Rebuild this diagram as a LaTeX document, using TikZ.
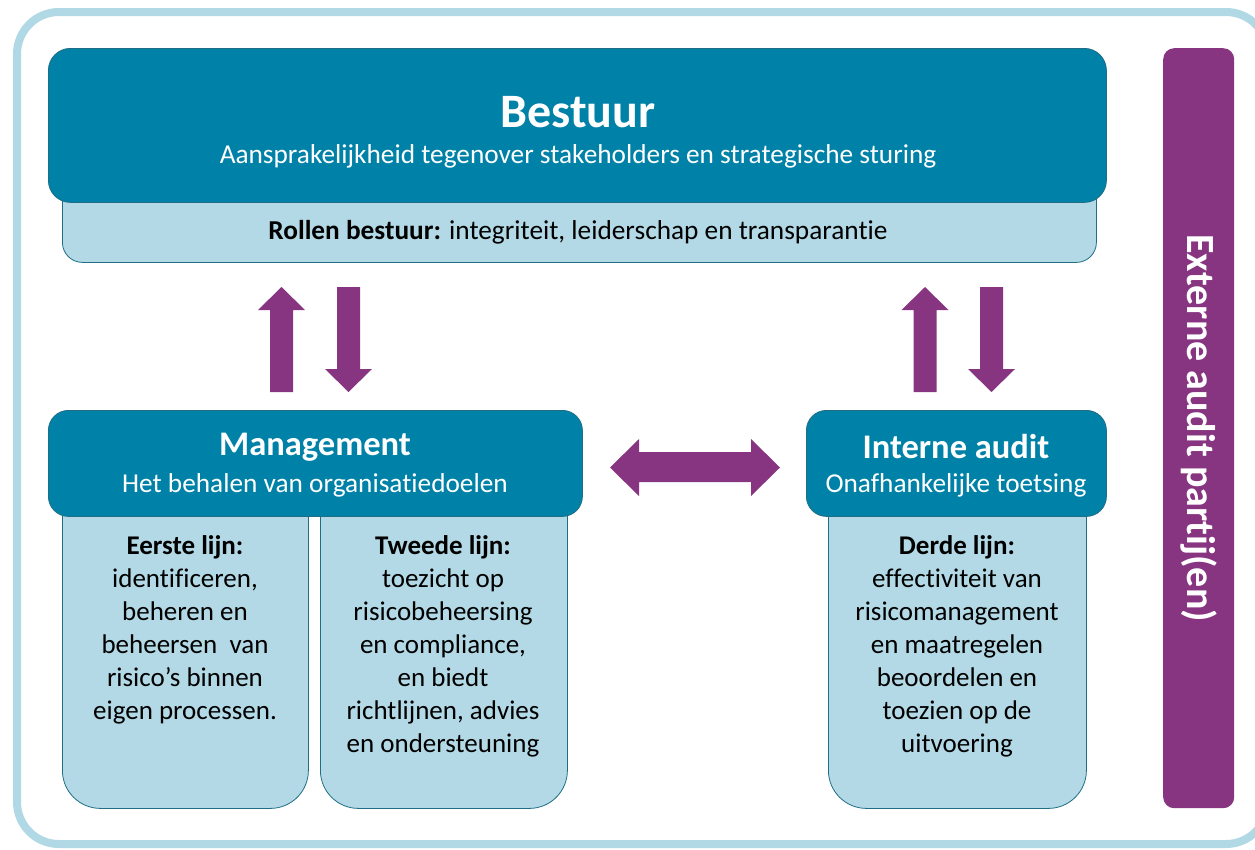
\documentclass[tikz,border=0pt]{standalone}
\usepackage{fontspec}
\setmainfont{Carlito}[Ligatures=NoCommon]
\usetikzlibrary{positioning}
\definecolor{headblue}{HTML}{0081A7}
\definecolor{headedge}{HTML}{1F6E85}
\definecolor{lightblue}{HTML}{B2D9E5}
\definecolor{framblue}{HTML}{B0D8E5}
\definecolor{auditpurple}{HTML}{873580}

\begin{document}
\begin{tikzpicture}[x=1pt,y=-1pt, line join=round,
	headbox/.style={draw=headedge, fill=headblue, line width=0.8pt, rounded corners=22pt, inner sep=0pt, anchor=north west},
	subbox/.style={draw=headedge, fill=lightblue, line width=0.8pt, rounded corners=38pt, inner sep=0pt, anchor=north west},
	arrowfill/.style={fill=auditpurple},
	titletext/.style={text=white, font=\bfseries\fontsize{34.5}{40}\selectfont},
	subtext/.style={text=white, font=\fontsize{27.3}{32}\selectfont},
	bodytext/.style={align=center, font=\fontsize{27}{33}\selectfont, anchor=north, inner sep=0pt}]
	\useasboundingbox (0,0) rectangle (1255,849);
	
	% ===== kader =====
	\draw[framblue, line width=8pt, rounded corners=42pt] (17,12) rectangle (1268,844);
	
	% ===== bestuur =====
	\node[subbox, rounded corners=20pt, minimum width=1034pt, minimum height=87pt] (rollen) at (62,175) {};
	\node[headbox, minimum width=1058pt, minimum height=154pt] (bestuur) at (48,48) {};
	\node[titletext, font=\bfseries\fontsize{48}{56}\selectfont] (bestuurT) at (578,112) {Bestuur};
	\node[subtext] (bestuurS) at (578,156) {Aansprakelijkheid tegenover stakeholders en strategische sturing};
	\node[font=\fontsize{27.3}{32}\selectfont] (rollenT) at (578,232) {\textbf{Rollen bestuur:} integriteit, leiderschap en transparantie};
	
	% ===== lijnen =====
	\node[subbox, minimum width=246pt, minimum height=338pt] (eerste) at (62,470) {};
	\node[subbox, minimum width=247pt, minimum height=338pt] (tweede) at (320,470) {};
	\node[subbox, minimum width=258pt, minimum height=338pt] (derde) at (828,470) {};
	
	\node[headbox, rounded corners=20pt, minimum width=534pt, minimum height=106pt] (mgmt) at (48,410) {};
	\node[headbox, rounded corners=20pt, minimum width=300pt, minimum height=106pt] (audit) at (806,410) {};
	
	\node[titletext] (mgmtT) at (315,447) {Management};
	\node[subtext] (mgmtS) at (315,485) {Het behalen van organisatiedoelen};
	\node[titletext] (auditT) at (956,447) {Interne audit};
	\node[subtext] (auditS) at (956,485) {Onafhankelijke toetsing};
	
	\node[bodytext] (eersteT) at (185,535) {\textbf{Eerste lijn:}\\identificeren,\\beheren en\\beheersen\ \ van\\risico’s binnen\\eigen processen.};
	\node[bodytext] (tweedeT) at (443,535) {\textbf{Tweede lijn:}\\toezicht op\\risicobeheersing\\en compliance,\\en biedt\\richtlijnen, advies\\en ondersteuning};
	\node[bodytext] (derdeT) at (957,535) {\textbf{Derde lijn:}\\effectiviteit van\\risicomanagement\\en maatregelen\\beoordelen en\\toezien op de\\uitvoering};
	
	% ===== externe audit =====
	\node[fill=auditpurple, rounded corners=11pt, minimum width=71pt, minimum height=760pt, anchor=north west, inner sep=0pt] (extern) at (1163,48) {};
	\node[rotate=-90, text=white, font=\bfseries\fontsize{40}{46}\selectfont] (externT) at (extern.center) {Externe audit partij(en)};
	
	% ===== pijlen =====
	\foreach \cx in {281.5,925}{
		\fill[arrowfill] (\cx-11.5,392) -- (\cx-11.5,310) -- (\cx-23.5,310) -- (\cx,287) -- (\cx+23.5,310) -- (\cx+11.5,310) -- (\cx+11.5,392) -- cycle;
	}
	\foreach \cx in {348.5,991.5}{
		\fill[arrowfill] (\cx-11.5,287) -- (\cx-11.5,369) -- (\cx-23.5,369) -- (\cx,392) -- (\cx+23.5,369) -- (\cx+11.5,369) -- (\cx+11.5,287) -- cycle;
	}
	\fill[arrowfill] (610,467.5) -- (639,439) -- (639,452) -- (751,452) -- (751,439) -- (780,467.5) -- (751,496) -- (751,482) -- (639,482) -- (639,496) -- cycle;
\end{tikzpicture}
\end{document}
